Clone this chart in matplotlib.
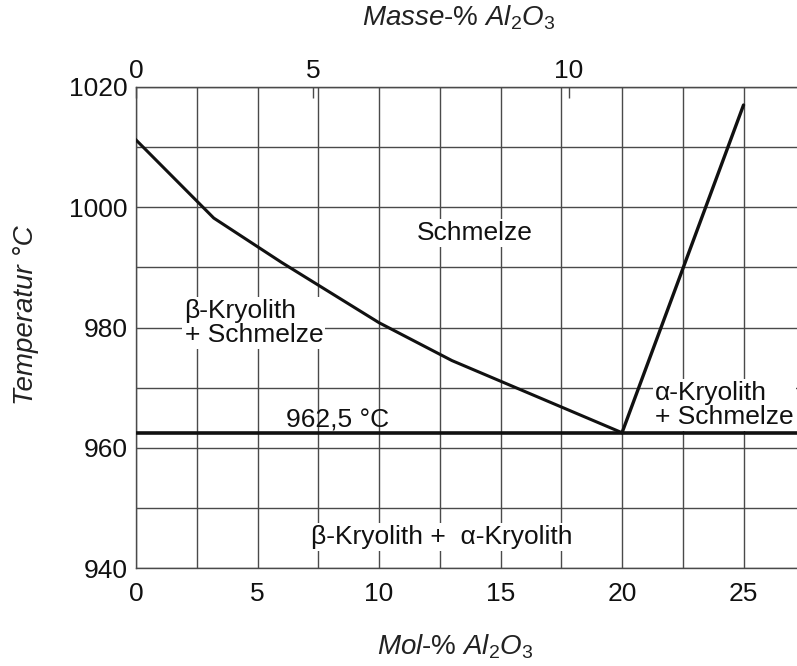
import numpy as np
import matplotlib
matplotlib.use("Agg")
import matplotlib.pyplot as plt

plt.rcParams['font.family'] = ['Liberation Sans', 'DejaVu Sans']
plt.rcParams['mathtext.fontset'] = 'custom'
plt.rcParams['mathtext.rm'] = 'Liberation Sans'
plt.rcParams['mathtext.it'] = 'Liberation Sans:italic'

# liquidus of beta-cryolite (mol-% Al2O3, deg C), ends at the eutectic
t_eut = 962.5
x_eut = 20.0
beta_mol = [0.0, 3.2, 6.0, 10.0, 13.0, 16.5, x_eut]
beta_temp = [1011.2, 998.2, 990.8, 980.8, 974.5, 968.5, t_eut]

# liquidus of alpha-cryolite
alpha_mol = [x_eut, 25.0]
alpha_temp = [t_eut, 1017.0]

# mass-% ticks on the top axis, placed at their mol-% positions
masse_labels = ['0', '5', '10']
masse_at_mol = [0.0, 7.3, 17.8]

mol_ticks = [0, 5, 10, 15, 20, 25]
temp_ticks = [940, 960, 980, 1000, 1020]

grid_col = '#4a4a4a'
ink = '#111111'
fs = 19

fig = plt.figure(figsize=(7.97, 6.66), dpi=100)
ax = fig.add_axes([136/797, 98/666, 661/797, 481/666])

ax.set_xlim(0, 27.2)
ax.set_ylim(940, 1020)
ax.set_xticks(mol_ticks)
ax.set_xticks(np.arange(0, 27.5, 2.5), minor=True)
ax.set_yticks(temp_ticks)
ax.set_yticks(np.arange(940, 1021, 10), minor=True)
ax.grid(True, which='both', color=grid_col, lw=1.0)
ax.set_axisbelow(True)
ax.tick_params(which='both', length=0, labelsize=fs, colors=ink)
ax.tick_params(axis='x', pad=10)
ax.tick_params(axis='y', pad=6)
for s in ['left', 'top', 'bottom']:
    ax.spines[s].set_color(grid_col)
    ax.spines[s].set_linewidth(1.0)
ax.spines['right'].set_visible(False)

# phase boundaries
ax.axhline(t_eut, color=ink, lw=2.6, zorder=3)
ax.plot(beta_mol, beta_temp, color=ink, lw=2.2, zorder=3, solid_joinstyle='round')
ax.plot(alpha_mol, alpha_temp, color=ink, lw=2.4, zorder=3, solid_capstyle='round')

box = dict(facecolor='white', edgecolor='none', pad=1.5)
ax.text(13.95, 995.7, 'Schmelze', fontsize=fs, color=ink, ha='center', va='center', bbox=box)
ax.text(2.0, 980.7, 'β-Kryolith\n+ Schmelze', fontsize=fs, color=ink, ha='left', va='center',
        linespacing=1.0, bbox=box)
ax.text(21.35, 967.1, 'α-Kryolith\n+ Schmelze', fontsize=fs, color=ink, ha='left', va='center',
        linespacing=1.0, bbox=box)
ax.text(12.6, 945.1, 'β-Kryolith +  α-Kryolith', fontsize=fs, color=ink, ha='center', va='center',
        bbox=box)
ax.annotate('{:.1f} °C'.format(t_eut).replace('.', ','), xy=(8.3, t_eut), xytext=(0, 0),
            textcoords='offset points', fontsize=fs, color=ink, ha='center', va='bottom')

# mass-% scale on top
ax2 = ax.twiny()
ax2.set_xlim(ax.get_xlim())
ax2.set_xticks(masse_at_mol)
ax2.set_xticklabels(masse_labels)
ax2.tick_params(axis='x', direction='in', length=8, width=1.0, color=grid_col,
                labelsize=fs, labelcolor=ink, pad=3)
for s in ['left', 'right', 'bottom']:
    ax2.spines[s].set_visible(False)
ax2.spines['top'].set_color(grid_col)

lab_col = '#222222'
fig.text(459/797, 1 - 18/666, r'$Masse$-% $Al_2O_3$', fontsize=20, color=lab_col,
         ha='center', va='center')
fig.text(455/797, 1 - 647/666, r'$Mol$-% $Al_2O_3$', fontsize=20, color=lab_col,
         ha='center', va='center')
fig.text(26/797, 1 - 315/666, 'Temperatur °C', fontsize=20, color=lab_col, style='italic',
         rotation=90, ha='center', va='center')

fig.savefig('out.png', dpi=100)
